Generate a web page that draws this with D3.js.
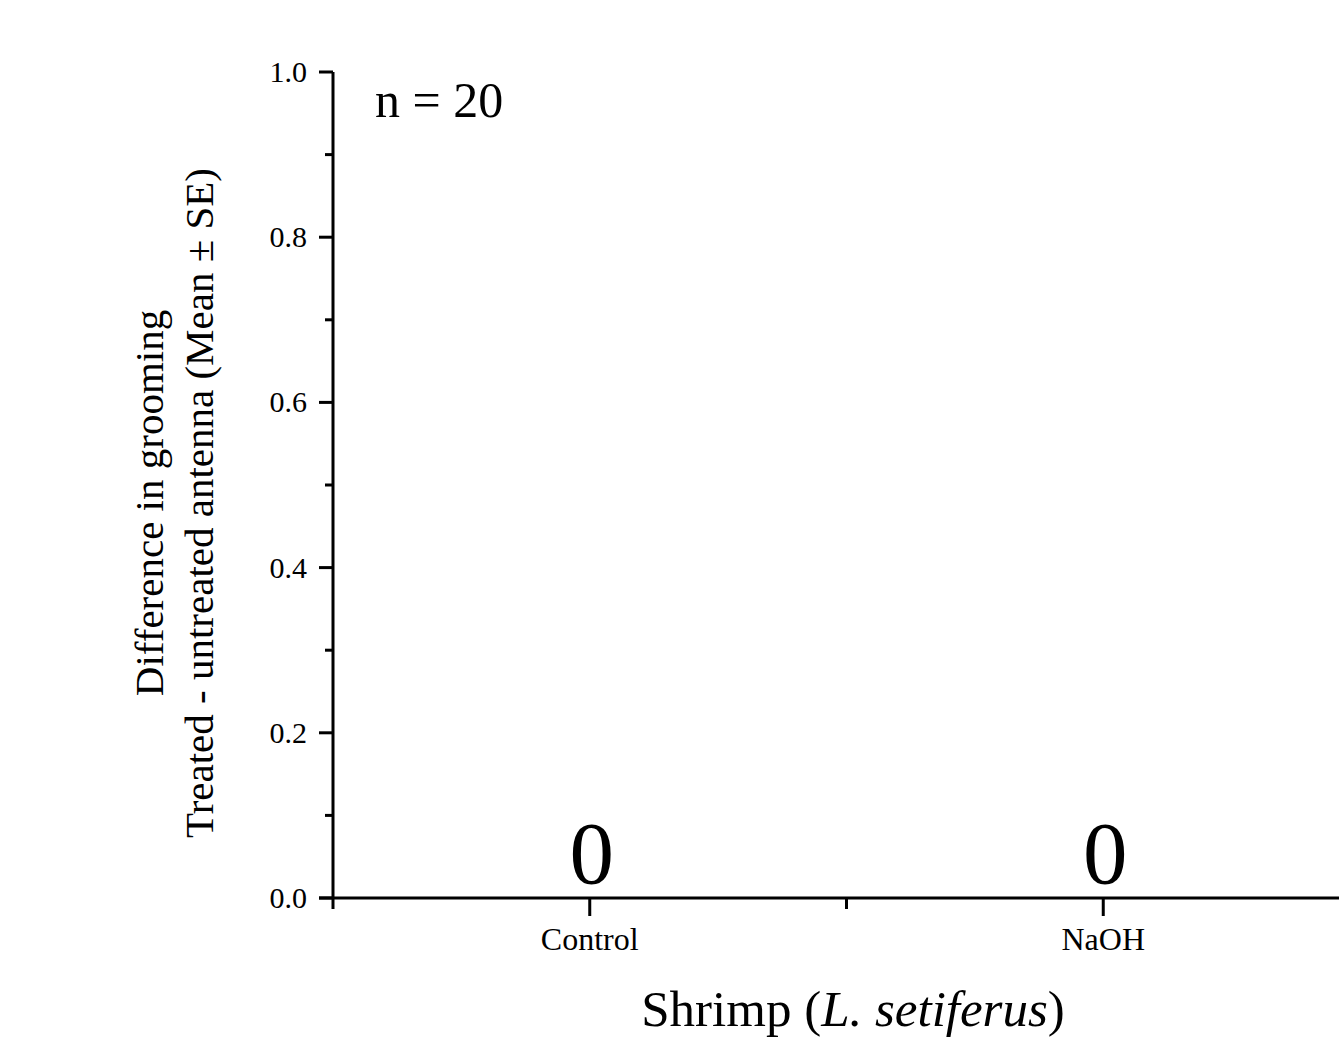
<!DOCTYPE html>
<html>
<head>
<meta charset="utf-8">
<script src="https://cdn.jsdelivr.net/npm/d3@7"></script>
<style>
  body { margin: 0; background: #fff; }
  text { font-family: "Liberation Serif", "Times New Roman", serif; fill: #000; }
</style>
</head>
<body>
<div id="chart"></div>
<script>
const categories = ["Control", "NaOH"];
const values = [0, 0];
const yTicks = [0, 0.2, 0.4, 0.6, 0.8, 1.0];
const yMinorTicks = [0.1, 0.3, 0.5, 0.7, 0.9];
const sampleLabel = "n = 20";

const W = 1339, H = 1040;
const margin = { top: 72, right: -21, bottom: 142, left: 333 };
const width = W - margin.left - margin.right;
const height = H - margin.top - margin.bottom;

const svg = d3.select("#chart")
    .append("svg")
    .attr("width", W)
    .attr("height", H);
const g = svg.append("g")
    .attr("transform", `translate(${margin.left},${margin.top})`);

const x = d3.scaleBand()
    .domain(categories)
    .range([0, width])
    .padding(0);
const y = d3.scaleLinear()
    .domain([0, 1])
    .range([height, 0]);

// bars (all zero here) and their value labels
const bars = g.selectAll(".bar")
    .data(categories.map((c, i) => ({ cat: c, val: values[i] })))
    .enter();
bars.append("rect")
    .attr("class", "bar")
    .attr("x", d => x(d.cat) + x.bandwidth() * 0.25)
    .attr("y", d => y(d.val))
    .attr("width", x.bandwidth() * 0.5)
    .attr("height", d => y(0) - y(d.val))
    .attr("fill", "#888");
bars.append("text")
    .attr("x", d => x(d.cat) + x.bandwidth() / 2 + 2)
    .attr("y", d => y(d.val) - 15)
    .attr("text-anchor", "middle")
    .style("font-size", "89px")
    .text(d => d.val);

// y axis
g.append("line")
    .attr("x1", 0).attr("x2", 0)
    .attr("y1", y(1)).attr("y2", y(0))
    .attr("stroke", "#000").attr("stroke-width", 3);
g.selectAll(".ymaj").data(yTicks).enter().append("line")
    .attr("x1", -14).attr("x2", 0)
    .attr("y1", d => y(d)).attr("y2", d => y(d))
    .attr("stroke", "#000").attr("stroke-width", 3);
g.selectAll(".ymin").data(yMinorTicks).enter().append("line")
    .attr("x1", -8).attr("x2", 0)
    .attr("y1", d => y(d)).attr("y2", d => y(d))
    .attr("stroke", "#000").attr("stroke-width", 3);
g.selectAll(".ylab").data(yTicks).enter().append("text")
    .attr("x", -26)
    .attr("y", d => y(d))
    .attr("dy", "0.33em")
    .attr("text-anchor", "end")
    .style("font-size", "30px")
    .text(d => d3.format(".1f")(d));

// x axis
g.append("line")
    .attr("x1", -14).attr("x2", width)
    .attr("y1", height).attr("y2", height)
    .attr("stroke", "#000").attr("stroke-width", 3);
const edges = categories.map(c => x(c)).concat([width]);
g.selectAll(".xmin").data(edges).enter().append("line")
    .attr("x1", d => d).attr("x2", d => d)
    .attr("y1", height).attr("y2", height + 11)
    .attr("stroke", "#000").attr("stroke-width", 3);
g.selectAll(".xmaj").data(categories).enter().append("line")
    .attr("x1", d => x(d) + x.bandwidth() / 2)
    .attr("x2", d => x(d) + x.bandwidth() / 2)
    .attr("y1", height).attr("y2", height + 18)
    .attr("stroke", "#000").attr("stroke-width", 3);
g.selectAll(".xlab").data(categories).enter().append("text")
    .attr("x", d => x(d) + x.bandwidth() / 2)
    .attr("y", height + 52)
    .attr("text-anchor", "middle")
    .style("font-size", "32px")
    .text(d => d);

// axis titles
const xt = svg.append("text")
    .attr("x", 853)
    .attr("y", 1026)
    .attr("text-anchor", "middle")
    .style("font-size", "51px");
xt.append("tspan").text("Shrimp (");
xt.append("tspan").style("font-style", "italic").text("L. setiferus");
xt.append("tspan").text(")");

const yt = svg.append("text")
    .attr("transform", "translate(0,503) rotate(-90)")
    .attr("text-anchor", "middle")
    .style("font-size", "41px");
yt.append("tspan").attr("x", 0).attr("y", 163).text("Difference in grooming");
yt.append("tspan").attr("x", 0).attr("y", 213).text("Treated - untreated antenna (Mean \u00b1 SE)");

// sample size
g.append("text")
    .attr("x", 42)
    .attr("y", y(1) + 45)
    .style("font-size", "50px")
    .text(sampleLabel);
</script>
</body>
</html>
